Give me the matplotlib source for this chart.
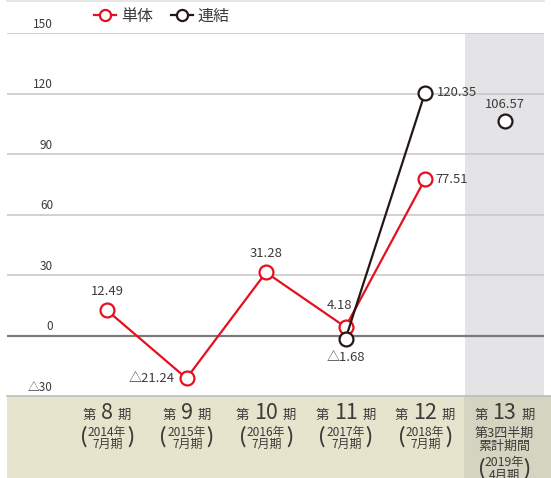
import matplotlib
matplotlib.use("Agg")
import matplotlib.pyplot as plt
from matplotlib.patches import Rectangle
from matplotlib.lines import Line2D

plt.rcParams['font.family'] = ['Noto Sans CJK JP', 'DejaVu Sans']

# ---- data ----
periods = [8, 9, 10, 11, 12, 13]
sub_years = [["2014年", "7月期"], ["2015年", "7月期"], ["2016年", "7月期"],
             ["2017年", "7月期"], ["2018年", "7月期"]]
last_lines = ["第3四半期", "累計期間", "2019年", "4月期"]
tanai = [12.49, -21.24, 31.28, 4.18, 77.51]          # 単体 (periods 8-12)
renketsu_idx = [3, 4]
renketsu = [-1.68, 120.35]                            # 連結 (periods 11-12)
renketsu_q_idx = 5
renketsu_q = 106.57                                   # 連結 period 13 (Q3)
yticks = [-30, 0, 30, 60, 90, 120, 150]
ytick_labels = ["△30", "0", "30", "60", "90", "120", "150"]

RED = "#e60f1e"
BLACK = "#231815"
TXT = "#3e3a39"

W, H = 551, 478
fig = plt.figure(figsize=(W / 100, H / 100), dpi=100)

def fx(x):
    return x / W

def fy(y):
    return 1 - y / H

# axes: pixel x 7..544, y 33..396
ax = fig.add_axes([fx(7), fy(396), (544 - 7) / W, (396 - 33) / H])
ax.set_ylim(-30, 150)
xl = -(107 - 7) / 79.5
xr = 5 + (544 - 504.5) / 79.5
ax.set_xlim(xl, xr)
ax.axis("off")

# shaded column for period 13
ax.axvspan(4.5, xr, color="#e4e4e6", zorder=0, lw=0)

# gridlines
for v, lab in zip(yticks, ytick_labels):
    if v == 0:
        ax.axhline(v, color="#7a7a7a", lw=1.6, zorder=1)
    elif v != -30:
        ax.axhline(v, color="#c9c9c9", lw=1.2, zorder=1)
    ax.text((53 - 7) / 537, v + 1.2, lab, transform=ax.get_yaxis_transform(),
            ha="right", va="bottom", fontsize=8.5, color=TXT)

mk = dict(marker="o", markersize=10, markerfacecolor="white", markeredgewidth=1.6)
x_t = list(range(len(tanai)))
ax.plot(x_t, tanai, color=RED, lw=1.6, markeredgecolor=RED, zorder=3, clip_on=False, **mk)
ax.plot(renketsu_idx, renketsu, color=BLACK, lw=1.6, markeredgecolor=BLACK, zorder=4,
        clip_on=False, **mk)
ax.plot([renketsu_q_idx], [renketsu_q], linestyle="none", markeredgecolor=BLACK, zorder=4,
        clip_on=False, **mk)

def fmt(v):
    return ("△%.2f" % -v) if v < 0 else ("%.2f" % v)

lab_kw = dict(fontsize=9.4, color=TXT, textcoords="offset pixels", zorder=5)
offsets_t = [((0, 12), "center", "bottom"), ((-12, 0), "right", "center"),
             ((0, 12), "center", "bottom"), ((-6, 15), "center", "bottom"),
             ((10, 0), "left", "center")]
for i, (v, (off, ha, va)) in enumerate(zip(tanai, offsets_t)):
    ax.annotate(fmt(v), (i, v), xytext=off, ha=ha, va=va, **lab_kw)
offsets_r = [((0, -12), "center", "top"), ((12, 0), "left", "center")]
for i, v, (off, ha, va) in zip(renketsu_idx, renketsu, offsets_r):
    ax.annotate(fmt(v), (i, v), xytext=off, ha=ha, va=va, **lab_kw)
ax.annotate(fmt(renketsu_q), (renketsu_q_idx, renketsu_q), xytext=(0, 10),
            ha="center", va="bottom", **lab_kw)

# top faint line
fig.add_artist(Line2D([fx(7), fx(544)], [fy(0.8), fy(0.8)], color="#e2e2e2", lw=1.2))

# bottom band
fig.patches.append(Rectangle((fx(7), 0), fx(464) - fx(7), fy(396), transform=fig.transFigure,
                             facecolor="#e6e4cd", edgecolor="none", zorder=0))
fig.patches.append(Rectangle((fx(464), 0), 1 - fx(464), fy(396), transform=fig.transFigure,
                             facecolor="#d5d4c1", edgecolor="none", zorder=0))
fig.add_artist(Line2D([fx(7), fx(551)], [fy(396), fy(396)], color="#bdbdbd", lw=1.2))

paren_kw = dict(ha="center", va="center", fontsize=17, color=TXT, family="Lato",
                fontweight="normal")

# category labels
for i, p in enumerate(periods):
    cx = 107 + 79.5 * i
    d = 17.5 if p < 10 else 23.5
    fig.text(fx(cx - d), fy(419), "第", ha="center", va="baseline", fontsize=9.6, color=TXT)
    fig.text(fx(cx), fy(419), str(p), ha="center", va="baseline", fontsize=15.5, color=TXT)
    fig.text(fx(cx + d), fy(419), "期", ha="center", va="baseline", fontsize=9.6, color=TXT)
    if i < len(sub_years):
        l1, l2 = sub_years[i]
        fig.text(fx(cx), fy(436), l1, ha="center", va="baseline", fontsize=8.6, color=TXT)
        fig.text(fx(cx + 1), fy(448), l2, ha="center", va="baseline", fontsize=8.6, color=TXT)
        fig.text(fx(cx - 23), fy(437), "(", **paren_kw)
        fig.text(fx(cx + 23), fy(437), ")", **paren_kw)
    else:
        ys = [437, 450, 466, 479]
        for t, yy in zip(last_lines, ys):
            fig.text(fx(cx), fy(yy), t, ha="center", va="baseline",
                     fontsize=9.4 if yy < 460 else 8.8, color=TXT)
        fig.text(fx(cx - 22), fy(469), "(", **paren_kw)
        fig.text(fx(cx + 22), fy(469), ")", **paren_kw)

# legend
leg_handles = [
    Line2D([], [], color=RED, lw=1.6, marker="o", markersize=8, markerfacecolor="white",
           markeredgecolor=RED, markeredgewidth=1.6),
    Line2D([], [], color=BLACK, lw=1.6, marker="o", markersize=8, markerfacecolor="white",
           markeredgecolor=BLACK, markeredgewidth=1.6),
]
fig.legend(leg_handles, ["単体", "連結"], loc="center left",
           bbox_to_anchor=(fx(94), fy(16)), ncol=2, frameon=False, fontsize=11.5,
           handlelength=1.4, handletextpad=0.3, columnspacing=1.1,
           labelcolor=TXT, borderaxespad=0, borderpad=0)

fig.savefig("out.png", dpi=100, facecolor="white")
